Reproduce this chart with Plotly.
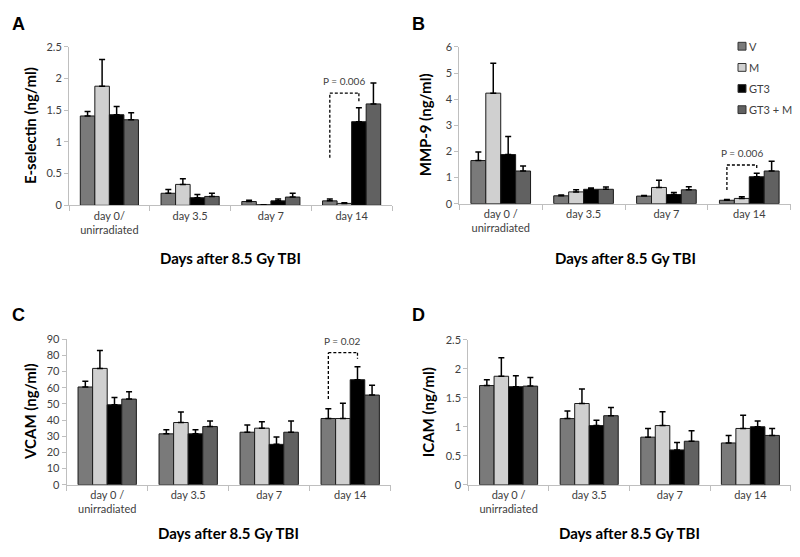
import plotly.graph_objects as go

# ---------------- data ----------------
groups = ["V", "M", "GT3", "GT3 + M"]
colors = ["#7a7a7a", "#d0d0d0", "#000000", "#616161"]

cats_A = ["day 0/<br>unirradiated", "day 3.5", "day 7", "day 14"]
cats_B = ["day 0 /<br>unirradiated", "day 3.5", "day 7", "day 14"]

# E-selectin (ng/ml)
eselectin = {
    "V":       [1.41, 0.19, 0.06, 0.07],
    "M":       [1.88, 0.33, 0.01, 0.03],
    "GT3":     [1.43, 0.12, 0.07, 1.32],
    "GT3 + M": [1.35, 0.14, 0.13, 1.60],
}
eselectin_err = {
    "V":       [0.07, 0.06, 0.02, 0.03],
    "M":       [0.42, 0.09, 0.00, 0.01],
    "GT3":     [0.13, 0.05, 0.03, 0.22],
    "GT3 + M": [0.11, 0.05, 0.06, 0.33],
}
# MMP-9 (ng/ml)
mmp9 = {
    "V":       [1.65, 0.30, 0.29, 0.13],
    "M":       [4.23, 0.45, 0.62, 0.20],
    "GT3":     [1.88, 0.55, 0.35, 1.03],
    "GT3 + M": [1.25, 0.55, 0.53, 1.25],
}
mmp9_err = {
    "V":       [0.33, 0.03, 0.02, 0.03],
    "M":       [1.14, 0.08, 0.28, 0.06],
    "GT3":     [0.69, 0.05, 0.08, 0.13],
    "GT3 + M": [0.19, 0.09, 0.12, 0.37],
}
# VCAM (ng/ml)
vcam = {
    "V":       [60.5, 31.5, 32.5, 41.0],
    "M":       [72.0, 38.5, 35.0, 41.0],
    "GT3":     [49.5, 31.5, 25.0, 65.0],
    "GT3 + M": [53.0, 36.0, 32.5, 55.5],
}
vcam_err = {
    "V":       [3.5, 2.5, 4.5, 6.0],
    "M":       [11.0, 6.5, 4.0, 9.5],
    "GT3":     [4.5, 2.5, 4.5, 8.0],
    "GT3 + M": [4.5, 3.5, 7.0, 6.0],
}
# ICAM (ng/ml)
icam = {
    "V":       [1.71, 1.14, 0.82, 0.72],
    "M":       [1.87, 1.40, 1.02, 0.97],
    "GT3":     [1.69, 1.02, 0.60, 1.00],
    "GT3 + M": [1.70, 1.19, 0.75, 0.85],
}
icam_err = {
    "V":       [0.10, 0.13, 0.15, 0.13],
    "M":       [0.32, 0.25, 0.24, 0.23],
    "GT3":     [0.19, 0.09, 0.13, 0.10],
    "GT3 + M": [0.15, 0.14, 0.18, 0.12],
}

panels = [
    ("A", cats_A, eselectin, eselectin_err, "E-selectin (ng/ml)", 2.5,
     [0, 0.5, 1, 1.5, 2, 2.5], ["0", "0.5", "1", "1.5", "2", "2.5"]),
    ("B", cats_B, mmp9, mmp9_err, "MMP-9 (ng/ml)", 6,
     [0, 1, 2, 3, 4, 5, 6], ["0", "1", "2", "3", "4", "5", "6"]),
    ("C", cats_B, vcam, vcam_err, "VCAM (ng/ml)", 90,
     list(range(0, 91, 10)), [str(v) for v in range(0, 91, 10)]),
    ("D", cats_B, icam, icam_err, "ICAM (ng/ml)", 2.5,
     [0, 0.5, 1, 1.5, 2, 2.5], ["0", "0.5", "1", "1.5", "2", "2.5"]),
]

# significance brackets: (panel, category index, group from, group to, y_left, y_right, y_top, label)
brackets = [
    ("A", 3, "V", "GT3", 0.75, 1.62, 1.77, "P = 0.006"),
    ("B", 3, "V", "GT3", 0.52, 1.30, 1.48, "P = 0.006"),
    ("C", 3, "V", "GT3", 53.0, 78.0, 81.7, "P = 0.02"),
]

# ---------------- layout geometry ----------------
# The page body has an 8px margin on every side, so the figure is made
# 16px smaller (no overflow) and reference pixel positions are shifted by 8.
OFF = 8
W, H = 800 - 2 * OFF, 557 - 2 * OFF


def px(x):
    return (x - OFF) / W


def py(y):
    return 1 - (y - OFF) / H


# plot areas in reference pixels: left, right, top, bottom
areas = {
    "A": (69, 392, 40.7, 203.0),
    "B": (459.3, 790.7, 40.7, 201.3),
    "C": (66.7, 390.7, 340.3, 489.3),
    "D": (468.3, 790.7, 340.7, 489.3),
}
letter_pos = {"A": (18, 17), "B": (418, 17), "C": (18, 315), "D": (418, 315)}
ytitle_x = {"A": 30, "B": 425, "C": 30, "D": 428}
xtitle_y = {"A": 257, "B": 257, "C": 539, "D": 539}
legend_rows_y = [40, 61.7, 83.3, 105]
legend_sym_x, legend_text_x = 742, 748

BARGAP = 0.28
FONT = "Lato, 'Open Sans', sans-serif"
AXCOL = "#bfbfbf"

fig = go.Figure()
layout = dict(
    width=W, height=H,
    margin=dict(l=0, r=0, t=0, b=0),
    paper_bgcolor="white", plot_bgcolor="white",
    barmode="group", bargap=BARGAP, bargroupgap=0,
    font=dict(family=FONT, color="#404040"),
    showlegend=False,
)
annotations = []
shapes = []

for i, (letter, cats, vals, errs, ytitle, ymax, tv, tt) in enumerate(panels):
    n = "" if i == 0 else str(i + 1)
    xa, ya = "x" + n, "y" + n
    l, r, t, b = areas[letter]
    layout["xaxis" + n] = dict(
        domain=[px(l), px(r)], anchor=ya, type="category",
        showline=True, linecolor=AXCOL, linewidth=1,
        ticks="outside", tickson="boundaries", ticklen=5, tickcolor=AXCOL,
        tickfont=dict(size=11, color="#404040", family=FONT),
        showgrid=False, zeroline=False, fixedrange=True,
    )
    layout["yaxis" + n] = dict(
        domain=[py(b), py(t)], anchor=xa, range=[0, ymax],
        tickvals=tv, ticktext=tt,
        showline=True, linecolor=AXCOL, linewidth=1,
        ticks="outside", ticklen=4, tickcolor=AXCOL,
        tickfont=dict(size=11, color="#404040", family=FONT),
        showgrid=False, zeroline=False,
    )
    for g, col in zip(groups, colors):
        fig.add_trace(go.Bar(
            x=cats, y=vals[g], name=g, xaxis=xa, yaxis=ya,
            marker=dict(color=col, line=dict(color="#1a1a1a", width=1)),
            error_y=dict(type="data", symmetric=False, array=errs[g],
                         arrayminus=[0] * len(errs[g]), color="#000000",
                         thickness=1.5, width=3),
            legendgroup=g, showlegend=False,
        ))
    lx, ly = letter_pos[letter]
    annotations.append(dict(text="<b>%s</b>" % letter, x=px(lx), y=py(ly),
                            xref="paper", yref="paper", showarrow=False,
                            xanchor="center", yanchor="middle",
                            font=dict(size=18, color="#000000",
                                      family="Liberation Sans, Arial, sans-serif")))
    annotations.append(dict(text="<b>%s</b>" % ytitle, x=px(ytitle_x[letter]),
                            y=py((t + b) / 2), xref="paper", yref="paper",
                            showarrow=False, textangle=-90, xanchor="center", yanchor="middle",
                            font=dict(size=15, color="#000000", family=FONT)))
    annotations.append(dict(text="<b>Days after 8.5 Gy TBI</b>", x=px((l + r) / 2),
                            y=py(xtitle_y[letter]), xref="paper", yref="paper",
                            showarrow=False, xanchor="center", yanchor="middle",
                            font=dict(size=15, color="#000000", family=FONT)))

# legend (drawn in panel B area)
for g, col, yy in zip(groups, colors, legend_rows_y):
    shapes.append(dict(type="rect", xref="paper", yref="paper",
                       x0=px(legend_sym_x - 4), x1=px(legend_sym_x + 4),
                       y0=py(yy + 4), y1=py(yy - 4),
                       fillcolor=col, line=dict(color="#333333", width=1)))
    annotations.append(dict(text=g, x=px(legend_text_x), y=py(yy), xref="paper", yref="paper",
                            showarrow=False, xanchor="left", yanchor="middle", borderpad=0,
                            font=dict(size=11, color="#404040", family=FONT)))

# brackets
bar_w = (1 - BARGAP) / len(groups)
panel_idx = {p[0]: k for k, p in enumerate(panels)}
for letter, ci, g1, g2, yl, yr, ytop, lab in brackets:
    k = panel_idx[letter]
    n = "" if k == 0 else str(k + 1)
    xa, ya = "x" + n, "y" + n
    x1 = ci - (1 - BARGAP) / 2 + bar_w * (groups.index(g1) + 0.5)
    x2 = ci - (1 - BARGAP) / 2 + bar_w * (groups.index(g2) + 0.5)
    dash = dict(color="#000000", width=1.3, dash="3px,2px")
    shapes.append(dict(type="line", xref=xa, yref=ya, x0=x1, x1=x1, y0=yl, y1=ytop, line=dash))
    shapes.append(dict(type="line", xref=xa, yref=ya, x0=x1, x1=x2, y0=ytop, y1=ytop, line=dash))
    shapes.append(dict(type="line", xref=xa, yref=ya, x0=x2, x1=x2, y0=ytop, y1=yr, line=dash))
    annotations.append(dict(text=lab, x=(x1 + x2) / 2, y=ytop, xref=xa, yref=ya,
                            showarrow=False, xanchor="center", yanchor="bottom", yshift=4,
                            font=dict(size=10, color="#404040", family=FONT)))

layout["annotations"] = annotations
layout["shapes"] = shapes
fig.update_layout(**layout)
fig.write_html("out.html")
